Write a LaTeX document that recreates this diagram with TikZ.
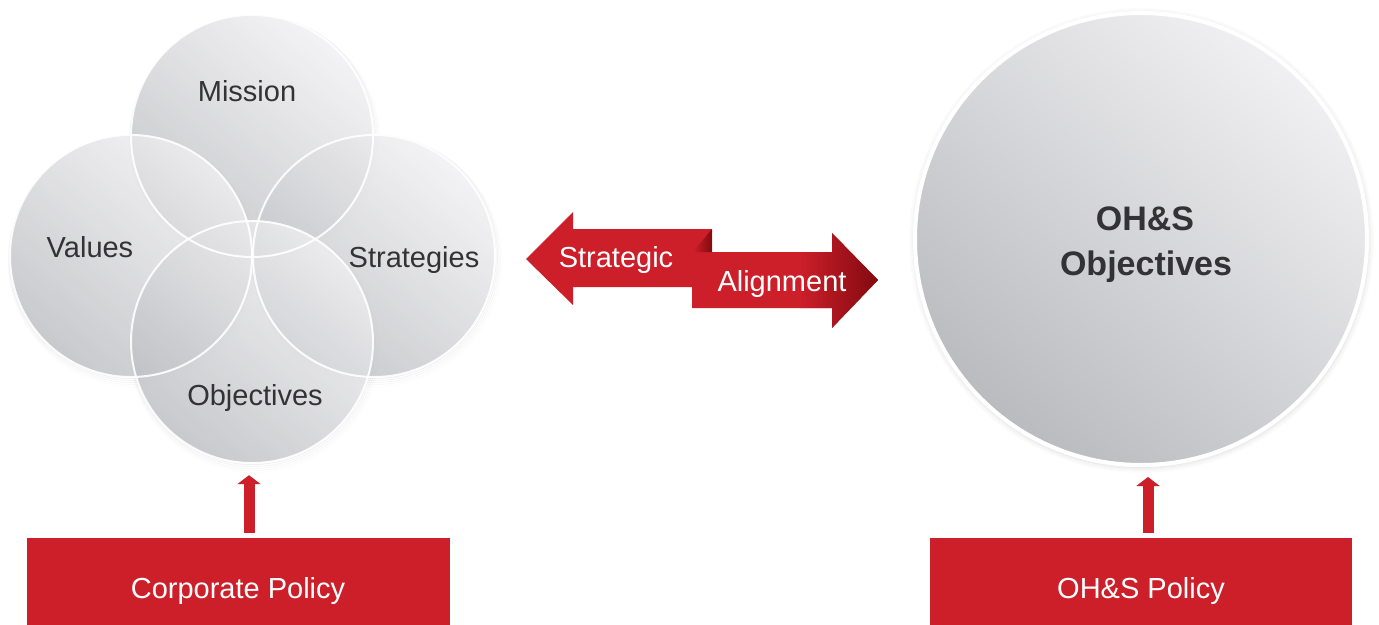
\documentclass[tikz,border=0pt]{standalone}
\usepackage{fontspec}
\setmainfont{Liberation Sans}
\usetikzlibrary{arrows.meta}
\definecolor{pred}{RGB}{204,31,42}
\definecolor{pdark}{RGB}{130,10,16}
\definecolor{ctext}{RGB}{51,51,53}
\definecolor{glight}{RGB}{240,240,242}
\definecolor{gdark}{RGB}{186,187,191}
\begin{document}
\begin{tikzpicture}[x=1pt,y=-1pt,
  venn/.style={circle, minimum size=242pt, inner sep=0pt, top color=glight, bottom color=gdark, shading angle=-40, fill opacity=0.78},
  vennline/.style={circle, minimum size=242pt, inner sep=0pt, draw=white, line width=2pt, draw opacity=0.9},
  halo/.style={draw=black, line width=1pt},
  lbl/.style={font=\fontsize{29}{31}\selectfont, text=ctext, anchor=base, inner sep=0pt},
  wlbl/.style={font=\fontsize{29}{31}\selectfont, text=white, anchor=base, inner sep=0pt},
  biglbl/.style={font=\bfseries\fontsize{34}{40}\selectfont, text=ctext, anchor=base, inner sep=0pt},
  redbox/.style={rectangle, fill=pred, inner sep=0pt},
  uparrow/.style={draw=pred, line width=11pt, -{Triangle[width=23pt,length=9pt]}}
]
\fill[white] (0,0) rectangle (1379,624);
\useasboundingbox (0,0) rectangle (1379,624);

% soft halos
\foreach \c in {(252,136),(131,256),(374,256),(252,342)}
  \foreach \i/\o in {1/0.06,2/0.045,3/0.03,4/0.018,5/0.008}
    \draw[halo, draw opacity=\o] \c ++(0.5*\i,1*\i) circle[radius=121+\i-0.5];
\foreach \i/\o in {1/0.07,2/0.055,3/0.04,4/0.028,5/0.018,6/0.01}
  \draw[halo, draw opacity=\o] (1141.5,240.5) circle[radius=226+\i];

% Venn circles
\node[venn] (mis) at (252,136) {};
\node[venn] (val) at (131,256) {};
\node[venn] (str) at (374,256) {};
\node[venn] (obj) at (252,342) {};
\foreach \p in {(252,136),(131,256),(374,256),(252,342)}
  \node[vennline] at \p {};

\node[lbl] (tmis) at (247,101) {Mission};
\node[lbl] (tval) at (90,257) {Values};
\node[lbl] (tstr) at (414,267) {Strategies};
\node[lbl] (tobj) at (255,405) {Objectives};

% Big circle
\node[circle, minimum size=452pt, inner sep=0pt, top color=glight, bottom color=gdark, shading angle=-40,
      draw=white, line width=4pt] (big) at (1141,239) {};
\node[biglbl] (tbig1) at (1145,230) {OH\&S};
\node[biglbl] (tbig2) at (1146,275) {Objectives};

% Double arrow
\fill[pred] (526,259) -- (573,212) -- (573,229) -- (712,229) -- (712,287) -- (573,287) -- (573,305) -- cycle;
\fill[pred] (692,252) -- (832,252) -- (832,233) -- (878,280) -- (832,328) -- (832,308) -- (692,308) -- cycle;
\shade[left color=pred, right color=pdark] (800,252) -- (832,252) -- (832,233) -- (878,280) -- (832,328) -- (832,308) -- (800,308) -- cycle;
\shade[left color=pred, right color=pdark] (693,252) -- (712,229) -- (712,252) -- cycle;
\node[wlbl] (tstrat) at (616,267) {Strategic};
\node[wlbl] (talign) at (782,291) {Alignment};

% Policy boxes
\node[redbox, minimum width=423pt, minimum height=87pt] (corp) at (238.5,581.5) {};
\node[redbox, minimum width=422pt, minimum height=87pt] (ohs) at (1141,581.5) {};
\node[wlbl] (tcorp) at (238,598) {Corporate Policy};
\node[wlbl] (tohs) at (1141,598) {OH\&S Policy};

% Up arrows
\draw[uparrow] ([xshift=10.5pt,yshift=5pt]corp.north) -- ([xshift=-3pt,yshift=-12pt]obj.south);
\draw[uparrow] ([xshift=7pt,yshift=5pt]ohs.north) -- ([xshift=7pt,yshift=-10pt]big.south);
\end{tikzpicture}
\end{document}
